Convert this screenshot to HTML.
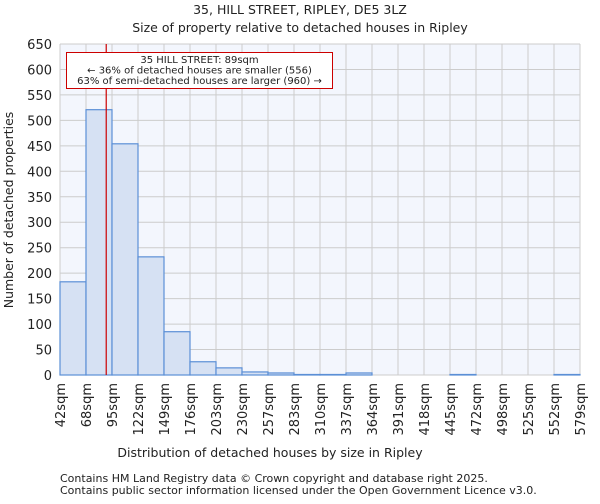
<!DOCTYPE html>
<html><head><meta charset="utf-8"><style>
body{margin:0;background:#fff;font-family:"DejaVu Sans","Liberation Sans",sans-serif;}
svg text{font-family:"DejaVu Sans","Liberation Sans",sans-serif;fill:#222;}
</style></head><body>
<svg width="600" height="500" xmlns="http://www.w3.org/2000/svg">
<text x="300" y="14" text-anchor="middle" font-size="12.5">35, HILL STREET, RIPLEY, DE5 3LZ</text>
<text x="300" y="32" text-anchor="middle" font-size="12.5">Size of property relative to detached houses in Ripley</text>
<g id="plot"></g>
<text x="270" y="457" text-anchor="middle" font-size="12.5">Distribution of detached houses by size in Ripley</text>
<text transform="translate(13,210) rotate(-90)" text-anchor="middle" font-size="12.5">Number of detached properties</text>
<text x="60" y="482" font-size="11" fill="#444">Contains HM Land Registry data © Crown copyright and database right 2025.</text>
<text x="60" y="494" font-size="11" fill="#444">Contains public sector information licensed under the Open Government Licence v3.0.</text>
</svg>
<script>
const edges=[42,68,95,122,149,176,203,230,257,283,310,337,364,391,418,445,472,498,525,552,579];
const counts=[183,521,454,232,85,26,14,6,4,1,1,4,0,0,0,1,0,0,0,1];
const yTicks=[0,50,100,150,200,250,300,350,400,450,500,550,600,650];
const propertySize=89;
const X0=60,X1=580,Y0=375,Y1=44,YMAX=650;
const nb=counts.length;
const xIdx=i=>X0+i*(X1-X0)/nb;
const xVal=v=>{for(let i=0;i<nb;i++){if(v<=edges[i+1])return xIdx(i)+(v-edges[i])/(edges[i+1]-edges[i])*(X1-X0)/nb;}return X1;};
const y=v=>Y0-v/YMAX*(Y0-Y1);
const NS='http://www.w3.org/2000/svg';
const g=document.getElementById('plot');
function mk(t,a){const e=document.createElementNS(NS,t);for(const k in a)e.setAttribute(k,a[k]);g.appendChild(e);return e;}
let bg=mk('rect',{x:X0,y:Y1,width:X1-X0,height:Y0-Y1,fill:'#f3f6fd'});


yTicks.forEach(t=>{
 let l=mk('line',{x1:X0,x2:X1,y1:y(t),y2:y(t),stroke:'#cccccc','stroke-width':1});
 
 
 let tx=mk('text',{x:X0-8,y:y(t)+5,'text-anchor':'end','font-size':13});
 tx.textContent=t;
 
 
});
edges.forEach((e,i)=>{
 let l=mk('line',{x1:xIdx(i),x2:xIdx(i),y1:Y1,y2:Y0,stroke:'#cccccc','stroke-width':1});
 
 
 let tx=mk('text',{transform:`translate(${xIdx(i)+5},${Y0+8}) rotate(-90)`,'text-anchor':'end','font-size':13});
 tx.textContent=e+'sqm';
 
 
});
counts.forEach((c,i)=>{
 if(c<=0)return;
 let r=mk('rect',{x:xIdx(i),y:y(c),width:(X1-X0)/nb,height:Y0-y(c),fill:'#d6e1f3',stroke:'#5b8fd6','stroke-width':1.2});
 
 
});
let px=xVal(propertySize);
let rl=mk('line',{x1:px,x2:px,y1:Y1,y2:Y0,stroke:'#cc0000','stroke-width':1.2});


let box=mk('rect',{x:66.5,y:52.5,width:266,height:36,fill:'#fff',stroke:'#cc0000','stroke-width':1});


['35 HILL STREET: 89sqm','← 36% of detached houses are smaller (556)','63% of semi-detached houses are larger (960) →'].forEach((s,i)=>{
 let t=mk('text',{x:199.5,y:63+i*10.5,'text-anchor':'middle','font-size':10});
 t.textContent=s;
 
 
});
</script>
</body></html>
